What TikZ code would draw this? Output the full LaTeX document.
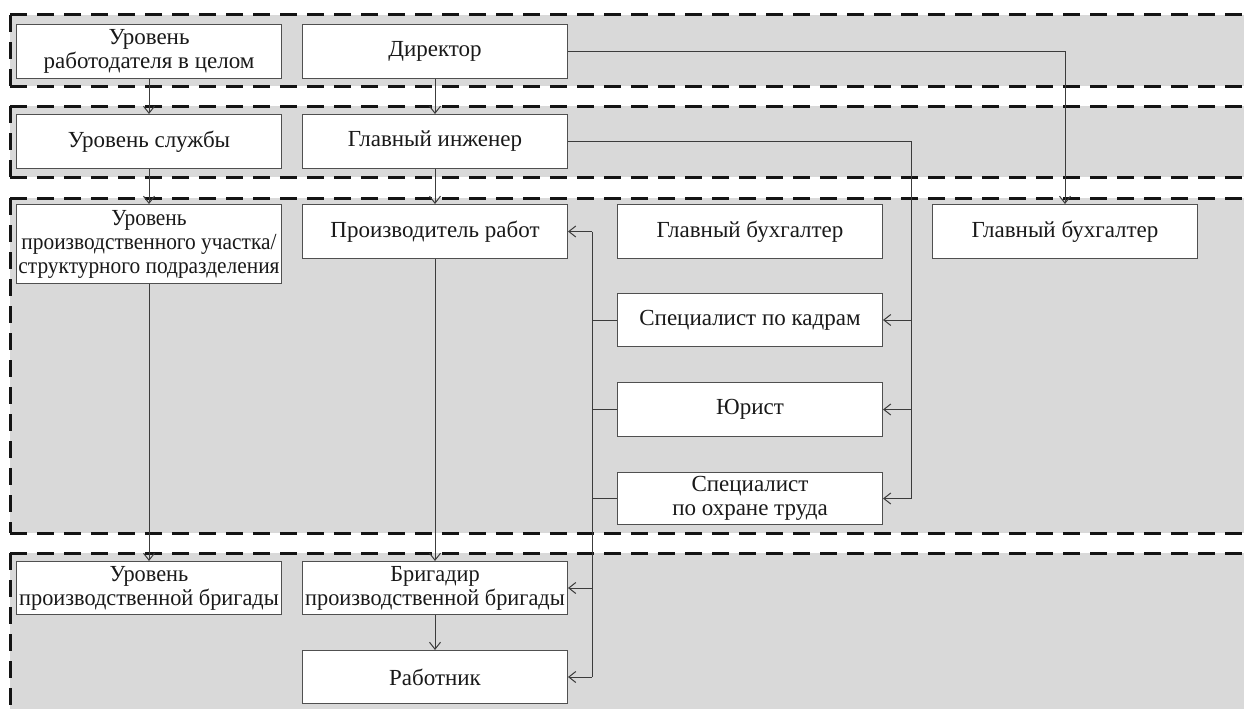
\documentclass[tikz,border=0pt]{standalone}
\usepackage{fontspec}
\setmainfont{Liberation Serif}
\newfontfamily\condA[FakeStretch=0.93]{Liberation Serif}
\newfontfamily\condB[FakeStretch=0.97]{Liberation Serif}
\usetikzlibrary{arrows.meta}
\definecolor{bandgray}{RGB}{217,217,217}
\definecolor{boxline}{RGB}{80,80,80}
\definecolor{txt}{RGB}{25,25,25}
\definecolor{conncol}{RGB}{60,60,60}
\definecolor{dashcol}{RGB}{20,20,20}
\tikzset{
  orgbox/.style={draw=boxline, line width=1pt, fill=white, minimum width=265pt, inner sep=0pt, align=center, text=txt, anchor=north west, font=\fontsize{23}{24}\selectfont},
  conn/.style={draw=conncol, line width=0.9pt},
  arr/.style={-{Straight Barb[length=7pt,width=11pt,line width=1pt]}},
  bandline/.style={draw=dashcol, line width=3pt, dash pattern=on 17pt off 10pt},
  bandfill/.style={fill=bandgray, draw=none}
}
\begin{document}
\begin{tikzpicture}[x=1pt,y=-1pt]
\useasboundingbox (0,0) rectangle (1244,709);
% bands
\fill[bandfill] (10,15) rectangle (1244,86);
\fill[bandfill] (10,106) rectangle (1244,177);
\fill[bandfill] (10,198) rectangle (1244,533);
\fill[bandfill] (10,553) rectangle (1244,709);
\foreach \y in {15,86,106,177,198,533,553} {\draw[bandline] (10,\y) -- (1244,\y);}
\draw[bandline] (10,15) -- (10,86);
\draw[bandline] (10,106) -- (10,177);
\draw[bandline] (10,198) -- (10,533);
\draw[bandline] (10,553) -- (10,709);
% boxes
\node[orgbox, minimum height=54pt] (l1) at (16,24) {Уровень\\работодателя в целом};
\node[orgbox, minimum height=54pt] (dir) at (302,24) {Директор};
\node[orgbox, minimum height=54pt] (l2) at (16,114) {Уровень службы};
\node[orgbox, minimum height=54pt] (gi) at (302,114) {Главный инженер};
\node[orgbox, minimum height=79pt, font=\fontsize{23}{24}\condA] (l3) at (16,204) {Уровень\\производственного участка/\\структурного подразделения};
\node[orgbox, minimum height=54pt] (pr) at (302,204) {Производитель работ};
\node[orgbox, minimum height=54pt] (gb1) at (617,204) {Главный бухгалтер};
\node[orgbox, minimum height=54pt] (gb2) at (932,204) {Главный бухгалтер};
\node[orgbox, minimum height=53pt] (kad) at (617,293) {Специалист по кадрам};
\node[orgbox, minimum height=54pt] (jur) at (617,382) {Юрист};
\node[orgbox, minimum height=52pt] (ohr) at (617,472) {Специалист\\по охране труда};
\node[orgbox, minimum height=53pt, font=\fontsize{23}{24}\condB] (l4) at (16,561) {Уровень\\производственной бригады};
\node[orgbox, minimum height=53pt, font=\fontsize{23}{24}\condB] (brig) at (302,561) {Бригадир\\производственной бригады};
\node[orgbox, minimum height=53pt] (rab) at (302,650) {Работник};
% bus coordinates
\coordinate (busR) at (911,0);
\coordinate (busL) at (592,0);
% vertical chains
\draw[conn,arr] (l1.south) -- (l2.north);
\draw[conn,arr] (l2.south) -- (l3.north);
\draw[conn,arr] (l3.south) -- (l4.north);
\draw[conn,arr] (dir.south) -- (gi.north);
\draw[conn,arr] (gi.south) -- (pr.north);
\draw[conn,arr] (pr.south) -- (brig.north);
\draw[conn,arr] (brig.south) -- (rab.north);
% director to chief accountant
\draw[conn,arr] (dir.east) -| (gb2.north);
% chief engineer to specialists
\draw[conn] (gi.east) -| (busR |- ohr.east);
\draw[conn,arr] (busR |- kad.east) -- (kad.east);
\draw[conn,arr] (busR |- jur.east) -- (jur.east);
\draw[conn,arr] (busR |- ohr.east) -- (ohr.east);
% specialists to line staff
\draw[conn] (kad.west) -- (busL |- kad.west);
\draw[conn] (jur.west) -- (busL |- jur.west);
\draw[conn] (ohr.west) -- (busL |- ohr.west);
\draw[conn] (busL |- pr.east) -- (busL |- rab.east);
\draw[conn,arr] (busL |- pr.east) -- (pr.east);
\draw[conn,arr] (busL |- brig.east) -- (brig.east);
\draw[conn,arr] (busL |- rab.east) -- (rab.east);
\end{tikzpicture}
\end{document}
